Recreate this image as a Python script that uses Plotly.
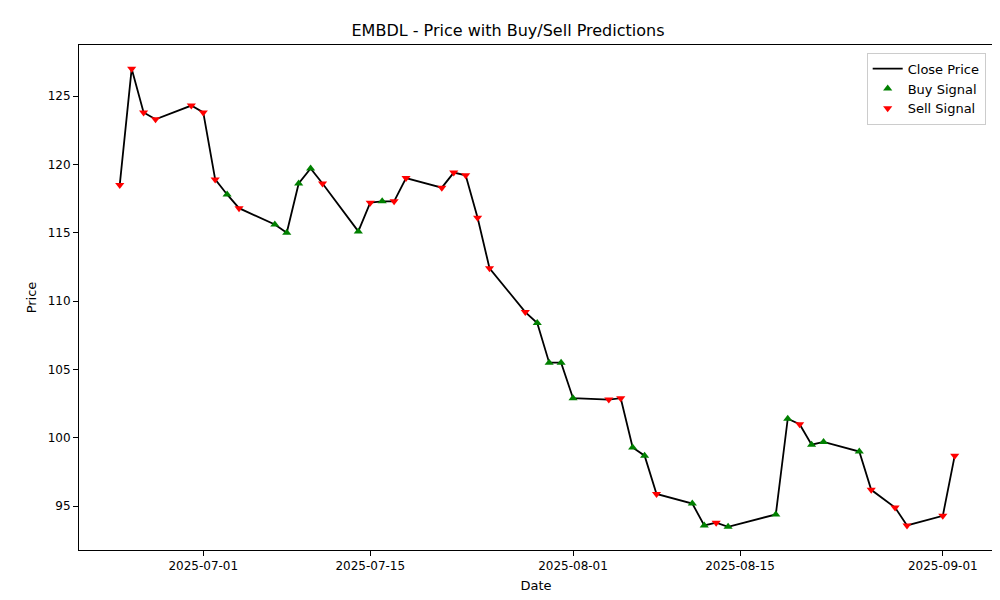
import plotly.graph_objects as go

dates = ["2025-06-24", "2025-06-25", "2025-06-26", "2025-06-27", "2025-06-30",
         "2025-07-01", "2025-07-02", "2025-07-03", "2025-07-04", "2025-07-07",
         "2025-07-08", "2025-07-09", "2025-07-10", "2025-07-11", "2025-07-14",
         "2025-07-15", "2025-07-16", "2025-07-17", "2025-07-18", "2025-07-21",
         "2025-07-22", "2025-07-23", "2025-07-24", "2025-07-25", "2025-07-28",
         "2025-07-29", "2025-07-30", "2025-07-31", "2025-08-01", "2025-08-04",
         "2025-08-05", "2025-08-06", "2025-08-07", "2025-08-08", "2025-08-11",
         "2025-08-12", "2025-08-13", "2025-08-14", "2025-08-18", "2025-08-19",
         "2025-08-20", "2025-08-21", "2025-08-22", "2025-08-25", "2025-08-26",
         "2025-08-28", "2025-08-29", "2025-09-01", "2025-09-02"]
close = [118.5, 127.0, 123.8, 123.3, 124.3,
         123.8, 118.9, 117.8, 116.8, 115.6,
         115.0, 118.6, 119.7, 118.6, 115.1,
         117.2, 117.3, 117.3, 119.0, 118.3,
         119.4, 119.2, 116.1, 112.4, 109.2,
         108.4, 105.5, 105.5, 102.9, 102.8,
         102.9, 99.3, 98.7, 95.9, 95.2,
         93.6, 93.8, 93.5, 94.4, 101.4,
         101.0, 99.5, 99.7, 99.0, 96.2,
         94.9, 93.6, 94.3, 98.7]
# 1 = buy, 0 = sell
signal = [0, 0, 0, 0, 0,
          0, 0, 1, 0, 1,
          1, 1, 1, 0, 1,
          0, 1, 0, 0, 0,
          0, 0, 0, 0, 0,
          1, 1, 1, 1, 0,
          0, 1, 1, 0, 1,
          1, 0, 1, 1, 1,
          0, 1, 1, 1, 0,
          0, 0, 0, 0]

buy_x = [d for d, s in zip(dates, signal) if s == 1]
buy_y = [c for c, s in zip(close, signal) if s == 1]
sell_x = [d for d, s in zip(dates, signal) if s == 0]
sell_y = [c for c, s in zip(close, signal) if s == 0]

fig = go.Figure()
fig.add_trace(go.Scatter(x=dates, y=close, mode="lines", name="Close Price",
                         line=dict(color="black", width=1.8)))
fig.add_trace(go.Scatter(x=buy_x, y=buy_y, mode="markers", name="Buy Signal",
                         marker=dict(symbol="triangle-up", color="green", size=8)))
fig.add_trace(go.Scatter(x=sell_x, y=sell_y, mode="markers", name="Sell Signal",
                         marker=dict(symbol="triangle-down", color="red", size=8)))

axis = dict(showline=True, linecolor="black", mirror=True, ticks="outside",
            tickcolor="black", showgrid=False, zeroline=False, automargin=False,
            tickfont=dict(size=12, color="black"))
fig.update_layout(
    width=1000, height=600, template="none",
    plot_bgcolor="white", paper_bgcolor="white",
    font=dict(family="DejaVu Sans", color="black"),
    title=dict(text="EMBDL - Price with Buy/Sell Predictions", x=0.5, xanchor="center",
               y=0.963, yanchor="middle", font=dict(size=16)),
    margin=dict(l=71, r=15, t=37, b=58),
    legend=dict(x=0.992, y=0.985, xanchor="right", yanchor="top",
                bordercolor="#cccccc", borderwidth=1, bgcolor="white",
                font=dict(size=13)),
    xaxis=dict(axis, title=dict(text="Date", font=dict(size=13), standoff=8),
               range=["2025-06-20 14:00", "2025-09-05 05:00"],
               tickvals=["2025-07-01", "2025-07-15", "2025-08-01", "2025-08-15", "2025-09-01"],
               tickformat="%Y-%m-%d"),
    yaxis=dict(axis, title=dict(text="Price", font=dict(size=13), standoff=8),
               range=[91.8, 128.73], dtick=5),
)
fig.write_html("out.html")
